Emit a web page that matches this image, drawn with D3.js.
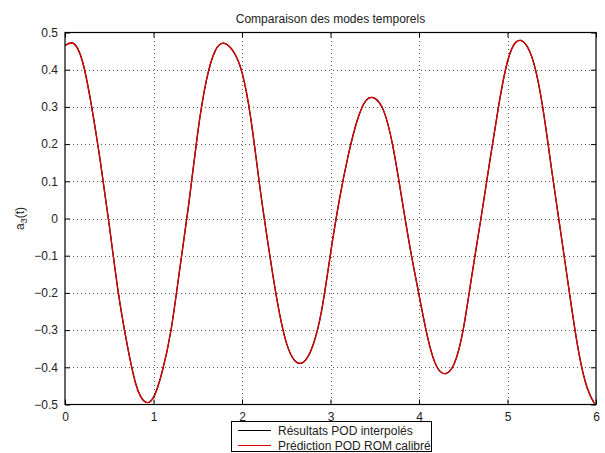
<!DOCTYPE html>
<html>
<head>
<meta charset="utf-8">
<script src="https://cdn.jsdelivr.net/npm/d3@7"></script>
<style>
  html, body { margin: 0; padding: 0; background: #fff; }
  svg text { font-family: "Liberation Sans", Arial, Helvetica, sans-serif; }
</style>
</head>
<body>
<svg id="chart" width="605" height="453"></svg>
<script>
const title = "Comparaison des modes temporels";
const xTicks = [0, 1, 2, 3, 4, 5, 6];
const yTicks = [-0.5, -0.4, -0.3, -0.2, -0.1, 0, 0.1, 0.2, 0.3, 0.4, 0.5];
const seriesNames = ["Résultats POD interpolés", "Prédiction POD ROM calibré"];
const seriesColors = ["#000000", "#e00000"];
const tValues = [0, 0.1, 0.2, 0.3, 0.4, 0.5, 0.6, 0.7, 0.8, 0.9,
  1.0, 1.1, 1.2, 1.3, 1.4, 1.5, 1.6, 1.7, 1.8, 1.9,
  2.0, 2.1, 2.2, 2.3, 2.4, 2.5, 2.6, 2.7, 2.8, 2.9,
  3.0, 3.1, 3.2, 3.3, 3.4, 3.5, 3.6, 3.7, 3.8, 3.9,
  4.0, 4.1, 4.2, 4.3, 4.4, 4.5, 4.6, 4.7, 4.8, 4.9,
  5.0, 5.1, 5.2, 5.3, 5.4, 5.5, 5.6, 5.7, 5.8, 5.9, 6.0];
const podValues = [0.465, 0.470, 0.420, 0.302, 0.152, -0.018, -0.195, -0.336, -0.445, -0.492,
  -0.481, -0.410, -0.297, -0.130, 0.042, 0.231, 0.374, 0.452, 0.471, 0.450,
  0.393, 0.268, 0.088, -0.077, -0.225, -0.333, -0.383, -0.385, -0.342, -0.247,
  -0.095, 0.050, 0.169, 0.262, 0.317, 0.323, 0.290, 0.200, 0.062, -0.080,
  -0.205, -0.322, -0.398, -0.417, -0.389, -0.298, -0.149, 0.000, 0.154, 0.303,
  0.422, 0.475, 0.470, 0.415, 0.296, 0.129, -0.035, -0.200, -0.353, -0.455, -0.505];
const romValues = podValues.slice();

// ---- layout ----
const svg = d3.select("#chart");
const L = 65, R = 596, T = 32.5, B = 404.5;
const x = d3.scaleLinear().domain([0, 6]).range([L, R]);
const y = d3.scaleLinear().domain([-0.5, 0.5]).range([B, T]);
const fmt = v => (v < 0 ? "\u2212" : "") + d3.format("")(Math.abs(+v.toFixed(1)));

// grid
const grid = svg.append("g").attr("stroke", "#555").attr("stroke-width", 1)
  .attr("stroke-dasharray", "1,3").attr("shape-rendering", "crispEdges");
xTicks.slice(1, -1).forEach(t => {
  grid.append("line").attr("x1", Math.round(x(t)) + 0.5).attr("x2", Math.round(x(t)) + 0.5)
    .attr("y1", T).attr("y2", B);
});
yTicks.slice(1, -1).forEach(t => {
  grid.append("line").attr("y1", Math.round(y(t)) + 0.5).attr("y2", Math.round(y(t)) + 0.5)
    .attr("x1", L).attr("x2", R);
});

// axes with inward ticks on all sides
const tl = 5;
const axB = d3.axisBottom(x).tickValues(xTicks).tickSizeInner(-tl).tickSizeOuter(0).tickPadding(8).tickFormat(d3.format("d"));
const axT = d3.axisTop(x).tickValues(xTicks).tickSizeInner(-tl).tickSizeOuter(0).tickFormat("");
const axLf = d3.axisLeft(y).tickValues(yTicks).tickSizeInner(-tl).tickSizeOuter(0).tickPadding(7).tickFormat(fmt);
const axRt = d3.axisRight(y).tickValues(yTicks).tickSizeInner(-tl).tickSizeOuter(0).tickFormat("");

function style(g) {
  g.selectAll("path.domain").remove();
  g.selectAll("line").attr("stroke", "#000");
  g.selectAll("text").attr("font-size", "12px").attr("fill", "#222")
    .attr("font-family", '"Liberation Sans", Arial, sans-serif');
}
svg.append("g").attr("transform", `translate(0,${B})`).call(axB).call(style);
svg.append("g").attr("transform", `translate(0,${T})`).call(axT).call(style);
svg.append("g").attr("transform", `translate(${L},0)`).call(axLf).call(style);
svg.append("g").attr("transform", `translate(${R},0)`).call(axRt).call(style);

// curves
const pts = tValues.map((t, i) => ({t, a: podValues[i], b: romValues[i]}));
svg.append("clipPath").attr("id", "clip").append("rect")
  .attr("x", L).attr("y", T - 2).attr("width", R - L).attr("height", B - T + 1);
const lineA = d3.line().x(d => x(d.t)).y(d => y(d.a)).curve(d3.curveNatural);
const lineB = d3.line().x(d => x(d.t)).y(d => y(d.b)).curve(d3.curveNatural);
svg.append("path").datum(pts).attr("d", lineA).attr("fill", "none")
  .attr("stroke", seriesColors[0]).attr("stroke-width", 1.3).attr("clip-path", "url(#clip)");
svg.append("path").datum(pts).attr("d", lineB).attr("fill", "none")
  .attr("stroke", seriesColors[1]).attr("stroke-width", 1.3).attr("clip-path", "url(#clip)");

// box
svg.append("rect").attr("x", L).attr("y", T).attr("width", R - L).attr("height", B - T)
  .attr("fill", "none").attr("stroke", "#000").attr("stroke-width", 1.2);

// title
svg.append("text").attr("x", (L + R) / 2).attr("y", 23).attr("text-anchor", "middle")
  .attr("font-size", "12px").attr("fill", "#222").text(title);

// y label a_3(t)
const yl = svg.append("text").attr("transform", `translate(24,${(T + B) / 2}) rotate(-90)`)
  .attr("text-anchor", "middle").attr("font-size", "12px").attr("fill", "#222");
yl.append("tspan").text("a");
yl.append("tspan").attr("font-size", "9px").attr("dy", 3).text("3");
yl.append("tspan").attr("dy", -3).text("(t)");

// legend
const lg = svg.append("g");
lg.append("rect").attr("x", 231.5).attr("y", 421.5).attr("width", 200).attr("height", 30)
  .attr("fill", "#fff").attr("stroke", "#000").attr("stroke-width", 1);
seriesNames.forEach((n, i) => {
  const yy = 430.5 + i * 15;
  lg.append("line").attr("x1", 238).attr("x2", 271).attr("y1", yy).attr("y2", yy)
    .attr("stroke", seriesColors[i]).attr("stroke-width", 1.2);
  lg.append("text").attr("x", 278).attr("y", yy).attr("dy", "0.35em")
    .attr("font-size", "12px").attr("fill", "#222").text(n);
});
</script>
</body>
</html>
